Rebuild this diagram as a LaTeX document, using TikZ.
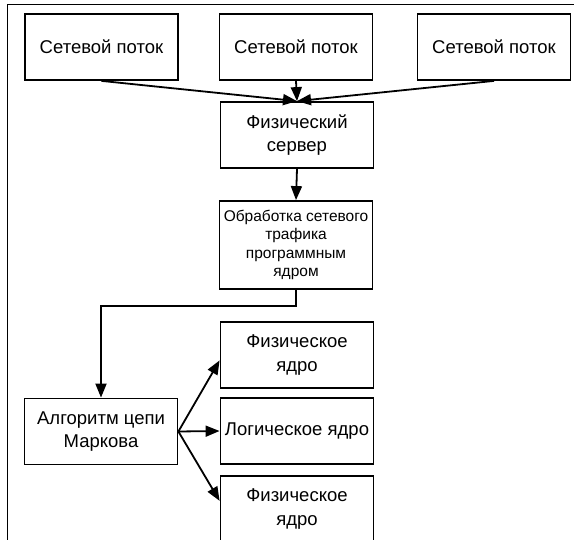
\documentclass[tikz,border=0pt]{standalone}
\usepackage{fontspec}
\setmainfont{Liberation Sans}
\usetikzlibrary{arrows.meta}

\begin{document}
\begin{tikzpicture}[x=1pt, y=-1pt,
    box/.style={draw, line width=1.8pt, minimum width=153pt, minimum height=66pt,
      inner sep=2pt, align=center, font=\fontsize{18.5}{23.5}\selectfont},
    arr/.style={line width=1.8pt, -{Triangle[length=14pt, width=11pt]}}]
	\useasboundingbox (0, 0) rectangle (574, 540);
	\clip (0, 0) rectangle (574, 540);
	\draw[line width=1pt] (7.5, 560)--(7.5, 4.5)--(590, 4.5);

	\node[box] (flowA) at (101.5, 47) {Сетевой поток};
	\node[box] (flowB) at (296, 47) {Сетевой поток};
	\node[box] (flowC) at (494, 47) {Сетевой поток};
	\node[box] (server) at (297, 135) {Физический\\сервер};
	\node[box, minimum height=88pt, font=\fontsize{15.5}{18.5}\selectfont] (proc) at (296, 245) {Обработка сетевого\\трафика\\программным\\ядром};
	\node[box] (markov) at (101, 431.5) {Алгоритм цепи\\Маркова};
	\node[box] (coreA) at (297, 355) {Физическое\\ядро};
	\node[box] (logic) at (297, 431) {Логическое ядро};
	\node[box] (coreB) at (297, 509) {Физическое\\ядро};

	\draw[arr] (flowA.south)--(server.north);
	\draw[arr] (flowB.south)--(server.north);
	\draw[arr] (flowC.south)--(server.north);
	\draw[arr] (server.south)--(proc.north);
	\draw[arr] (proc.south)--++(0, 16.5)-|(markov.north);
	\draw[arr] (markov.east)--(coreA.184);
	\draw[arr] (markov.east)--(logic.west);
	\draw[arr] (markov.east)--(coreB.174);
\end{tikzpicture}
\end{document}
